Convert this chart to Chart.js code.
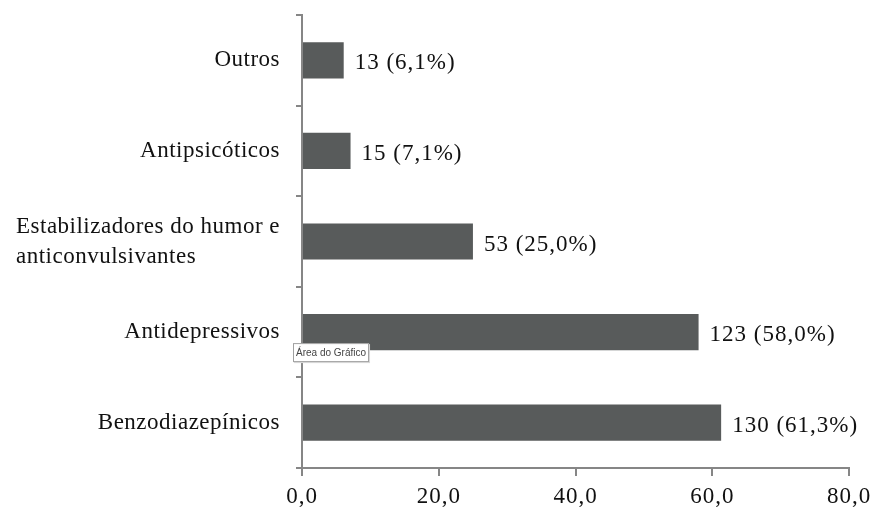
<!DOCTYPE html>
<html lang="pt">
<head>
    <meta charset="UTF-8">
    <title>Classes de psicofármacos</title>
    <script src="https://cdn.jsdelivr.net/npm/chart.js"></script>
    <style>
        html, body { margin: 0; padding: 0; background: #fff; }
        #wrap { width: 873px; height: 510px; }
    </style>
</head>
<body>
    <div id="wrap"><canvas id="chart" width="873" height="510"></canvas></div>
    <script>
        // Data
        const categories = [
            'Outros',
            'Antipsicóticos',
            ['Estabilizadores do humor e', 'anticonvulsivantes'],
            'Antidepressivos',
            'Benzodiazepínicos'
        ];
        const counts = [13, 15, 53, 123, 130];
        const percents = [6.1, 7.1, 25.0, 58.0, 61.3];
        const xTicks = [0, 20, 40, 60, 80];

        const serif = '"Liberation Serif", "Times New Roman", serif';
        const axisGray = '#868686';
        const fmt = v => v.toFixed(1).replace('.', ',');

        // wider spacing so Liberation Serif fills the space the original font took
        const spacing = {
            id: 'spacing',
            beforeDraw(chart) { chart.ctx.letterSpacing = '1px'; },
            afterDraw(chart) { chart.ctx.letterSpacing = '0px'; }
        };

        // category labels: block right-aligned, lines left-aligned inside the block
        const categoryLabels = {
            id: 'categoryLabels',
            afterDraw(chart) {
                const ctx = chart.ctx;
                const y = chart.scales.y;
                const right = chart.chartArea.left - 22;
                ctx.save();
                ctx.letterSpacing = '0.5px';
                ctx.font = '23px ' + serif;
                ctx.fillStyle = '#111';
                ctx.textBaseline = 'middle';
                ctx.textAlign = 'left';
                categories.forEach((lab, i) => {
                    const lines = Array.isArray(lab) ? lab : [lab];
                    const w = Math.max(...lines.map(l => ctx.measureText(l).width));
                    const cy = y.getPixelForValue(i);
                    const lh = 30;
                    lines.forEach((l, j) => {
                        ctx.fillText(l, right - w, cy + (j - (lines.length - 1) / 2) * lh);
                    });
                });
                ctx.restore();
            }
        };

        // value labels at the end of each bar
        const valueLabels = {
            id: 'valueLabels',
            afterDatasetsDraw(chart) {
                const ctx = chart.ctx;
                const meta = chart.getDatasetMeta(0);
                ctx.save();
                ctx.letterSpacing = '1px';
                ctx.font = '23px ' + serif;
                ctx.fillStyle = '#111';
                ctx.textBaseline = 'middle';
                ctx.textAlign = 'left';
                meta.data.forEach((bar, i) => {
                    const txt = counts[i] + ' (' + fmt(percents[i]) + '%)';
                    ctx.fillText(txt, bar.x + 11, bar.y + 3);
                });
                ctx.restore();
            }
        };

        // the little "Área do Gráfico" hover tip seen in the picture
        const areaTip = {
            id: 'areaTip',
            afterDraw(chart) {
                const ctx = chart.ctx;
                const x = chart.chartArea.left - 9;
                const y = chart.scales.y.getPixelForValue(3) + 11;
                const txt = 'Área do Gráfico';
                ctx.save();
                ctx.letterSpacing = '0px';
                ctx.font = '10px "Liberation Sans", sans-serif';
                const w = ctx.measureText(txt).width + 6;
                ctx.fillStyle = '#d8d8d8';
                ctx.fillRect(x + 1, y + 1, w, 19);
                ctx.fillStyle = '#fff';
                ctx.fillRect(x, y, w, 19);
                ctx.strokeStyle = '#a0a0a0';
                ctx.lineWidth = 1;
                ctx.strokeRect(x + 0.5, y + 0.5, w - 1, 18);
                ctx.fillStyle = '#444';
                ctx.textBaseline = 'middle';
                ctx.fillText(txt, x + 3, y + 10);
                ctx.restore();
            }
        };

        new Chart(document.getElementById('chart'), {
            type: 'bar',
            data: {
                labels: categories,
                datasets: [{
                    data: percents,
                    backgroundColor: '#585b5b',
                    borderWidth: 0,
                    barPercentage: 0.4,
                    categoryPercentage: 1.0
                }]
            },
            options: {
                indexAxis: 'y',
                responsive: false,
                animation: false,
                layout: { padding: { top: 15, right: 24, bottom: 0, left: 0 } },
                plugins: {
                    legend: { display: false },
                    tooltip: { enabled: false }
                },
                scales: {
                    x: {
                        min: 0,
                        max: 80,
                        afterBuildTicks: s => { s.ticks = xTicks.map(v => ({ value: v })); },
                        afterFit: s => {
                            s.height = 42;
                            s.paddingLeft = 0;
                            s.paddingRight = 0;
                        },
                        border: { color: axisGray, width: 2 },
                        grid: {
                            drawOnChartArea: false,
                            drawTicks: true,
                            tickLength: 8,
                            color: axisGray,
                            lineWidth: 2
                        },
                        ticks: {
                            padding: 7,
                            color: '#111',
                            font: { family: serif, size: 23 },
                            callback: v => fmt(v)
                        }
                    },
                    y: {
                        afterFit: s => { s.width = 302; },
                        border: { color: axisGray, width: 2 },
                        grid: {
                            offset: true,
                            drawOnChartArea: false,
                            drawTicks: true,
                            tickLength: 6,
                            color: axisGray,
                            lineWidth: 2
                        },
                        ticks: { display: false }
                    }
                }
            },
            plugins: [spacing, categoryLabels, valueLabels, areaTip]
        });
    </script>
</body>
</html>
